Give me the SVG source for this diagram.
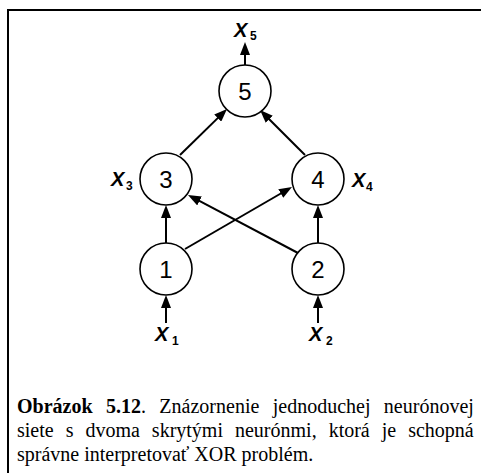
<svg xmlns="http://www.w3.org/2000/svg" width="481" height="473" viewBox="0 0 481 473">
  <style>
    .frame { stroke: #000; stroke-width: 2; fill: none; }
    .neuron circle { fill: #fff; stroke: #000; stroke-width: 1.6; }
    .neuron text { font-family: "Liberation Sans", Arial, sans-serif; font-size: 24px; text-anchor: middle; fill: #000; }
    .edges line { stroke: #000; stroke-width: 2; marker-end: url(#arrow); }
    .var { font-family: "Liberation Sans", Arial, sans-serif; font-weight: bold; font-style: italic; font-size: 20px; fill: #000; }
    .sub { font-family: "Liberation Sans", Arial, sans-serif; font-weight: bold; font-size: 12px; fill: #000; }
    .caption { font-family: "Liberation Serif", "Times New Roman", serif; font-size: 20px; fill: #000; }
  </style>
  <defs>
    <marker id="arrow" markerUnits="userSpaceOnUse" markerWidth="13" markerHeight="10" refX="5" refY="5" orient="auto">
      <path d="M0,0 L13,5 L0,10 z" fill="#000"/>
    </marker>
  </defs>

  <!-- page frame -->
  <line class="frame" x1="7" y1="10" x2="481" y2="10"/>
  <line class="frame" x1="8" y1="9" x2="8" y2="473"/>

  <!-- connectors -->
  <g id="edges" class="edges">
    <line x1="245" y1="65" x2="245" y2="50"/>
    <line x1="180" y1="155" x2="221.3" y2="114.6"/>
    <line x1="305" y1="155" x2="265.7" y2="115.7"/>
    <line x1="166" y1="243" x2="166" y2="213"/>
    <line x1="318" y1="243" x2="318" y2="213"/>
    <line x1="185" y1="249" x2="285.1" y2="191"/>
    <line x1="298" y1="253" x2="195.1" y2="198.7"/>
    <line x1="166" y1="323" x2="166" y2="303"/>
    <line x1="318" y1="323" x2="318" y2="303"/>
  </g>

  <!-- neurons -->
  <g id="n5" class="neuron"><circle cx="245" cy="91" r="26"/><text x="245" y="99.5">5</text></g>
  <g id="n3" class="neuron"><circle cx="166" cy="179" r="26"/><text x="166" y="187.5">3</text></g>
  <g id="n4" class="neuron"><circle cx="318" cy="179" r="26"/><text x="318" y="187.5">4</text></g>
  <g id="n1" class="neuron"><circle cx="166" cy="269" r="26"/><text x="166" y="277.5">1</text></g>
  <g id="n2" class="neuron"><circle cx="318" cy="269" r="26"/><text x="318" y="277.5">2</text></g>

  <!-- variable labels -->
  <g id="labels">
    <text class="var" x="234" y="37">X</text><text class="sub" x="250" y="40">5</text>
    <text class="var" x="111" y="186">X</text><text class="sub" x="126" y="190">3</text>
    <text class="var" x="352" y="187">X</text><text class="sub" x="366" y="191">4</text>
    <text class="var" x="155" y="341">X</text><text class="sub" x="172" y="345">1</text>
    <text class="var" x="309" y="341">X</text><text class="sub" x="326" y="345">2</text>
  </g>

  <!-- caption -->
  <g id="caption" class="caption">
    <text x="17" y="413" word-spacing="8.4"><tspan font-weight="bold">Obrázok 5.12</tspan>. Znázornenie jednoduchej neurónovej</text>
    <text x="17" y="437" word-spacing="7">siete s dvoma skrytými neurónmi, ktorá je schopná</text>
    <text x="17" y="461">správne interpretovať XOR problém.</text>
  </g>
</svg>
